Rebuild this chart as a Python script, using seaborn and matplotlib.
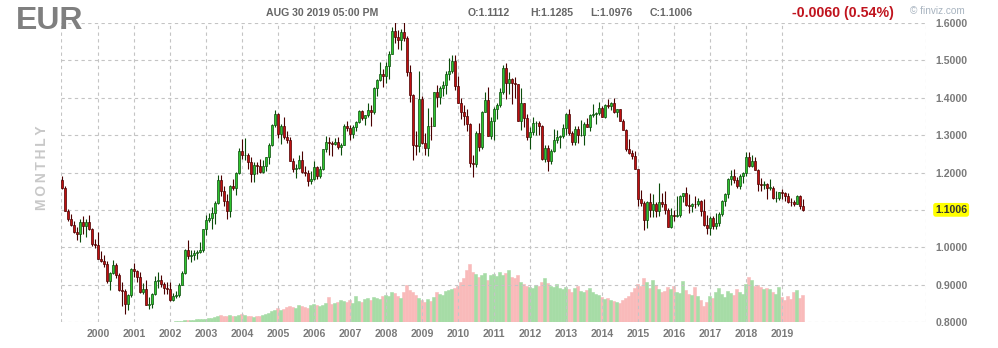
import numpy as np
import pandas as pd
import matplotlib
matplotlib.use("Agg")
import matplotlib.pyplot as plt
import seaborn as sns

# ---------------- data (monthly EUR/USD, Jan 1999 .. Aug 2019) ----------------
first_open = 1.1812
closes = [
    1.1580, 1.0980, 1.0770, 1.0590, 1.0420, 1.0350, 1.0680, 1.0580, 1.0680, 1.0500, 1.0080, 1.0070,  # 1999
    0.9700, 0.9640, 0.9570, 0.9110, 0.9330, 0.9530, 0.9270, 0.8870, 0.8830, 0.8500, 0.8720, 0.9420,  # 2000
    0.9370, 0.9220, 0.8800, 0.8880, 0.8460, 0.8480, 0.8760, 0.9110, 0.9130, 0.9030, 0.8910, 0.8900,  # 2001
    0.8600, 0.8700, 0.8720, 0.9000, 0.9330, 0.9920, 0.9780, 0.9810, 0.9860, 0.9880, 0.9920, 1.0490,  # 2002
    1.0730, 1.0790, 1.0910, 1.1180, 1.1800, 1.1500, 1.1240, 1.0980, 1.1650, 1.1590, 1.1990, 1.2590,  # 2003
    1.2470, 1.2480, 1.2290, 1.1970, 1.2200, 1.2180, 1.2020, 1.2170, 1.2430, 1.2750, 1.3270, 1.3560,  # 2004
    1.3040, 1.3250, 1.2960, 1.2870, 1.2300, 1.2110, 1.2130, 1.2330, 1.2020, 1.1990, 1.1790, 1.1840,  # 2005
    1.2160, 1.1920, 1.2110, 1.2620, 1.2810, 1.2790, 1.2760, 1.2810, 1.2680, 1.2750, 1.3250, 1.3200,  # 2006
    1.3020, 1.3230, 1.3350, 1.3650, 1.3450, 1.3540, 1.3680, 1.3630, 1.4260, 1.4480, 1.4640, 1.4590,  # 2007
    1.4850, 1.5180, 1.5790, 1.5620, 1.5550, 1.5750, 1.5600, 1.4680, 1.4080, 1.2730, 1.2700, 1.3970,  # 2008
    1.2800, 1.2670, 1.3250, 1.3240, 1.4150, 1.4030, 1.4260, 1.4330, 1.4640, 1.4720, 1.4990, 1.4320,  # 2009
    1.3870, 1.3630, 1.3510, 1.3300, 1.2270, 1.2230, 1.3050, 1.2680, 1.3630, 1.3940, 1.2980, 1.3380,  # 2010
    1.3690, 1.3800, 1.4160, 1.4800, 1.4390, 1.4500, 1.4390, 1.4370, 1.3390, 1.3850, 1.3450, 1.2960,  # 2011
    1.3080, 1.3330, 1.3340, 1.3240, 1.2360, 1.2660, 1.2300, 1.2580, 1.2860, 1.2960, 1.2990, 1.3190,  # 2012
    1.3580, 1.3060, 1.2820, 1.3170, 1.3000, 1.3010, 1.3300, 1.3220, 1.3530, 1.3580, 1.3590, 1.3740,  # 2013
    1.3490, 1.3800, 1.3770, 1.3870, 1.3630, 1.3690, 1.3390, 1.3130, 1.2630, 1.2520, 1.2450, 1.2100,  # 2014
    1.1290, 1.1200, 1.0730, 1.1220, 1.0990, 1.1150, 1.0980, 1.1210, 1.1170, 1.1000, 1.0560, 1.0860,  # 2015
    1.0830, 1.0870, 1.1380, 1.1450, 1.1130, 1.1100, 1.1170, 1.1160, 1.1240, 1.0980, 1.0590, 1.0520,  # 2016
    1.0800, 1.0570, 1.0650, 1.0900, 1.1240, 1.1420, 1.1840, 1.1910, 1.1810, 1.1650, 1.1900, 1.2000,  # 2017
    1.2410, 1.2190, 1.2320, 1.2080, 1.1690, 1.1680, 1.1690, 1.1600, 1.1600, 1.1310, 1.1310, 1.1470,  # 2018
    1.1450, 1.1370, 1.1220, 1.1210, 1.1170, 1.1370, 1.1112, 1.1006,                                  # 2019
]
highs = [
    1.1910, 1.1650, 1.1040, 1.0890, 1.0720, 1.0540, 1.0750, 1.0830, 1.0760, 1.0880, 1.0520, 1.0220,
    1.0410, 0.9900, 0.9800, 0.9630, 0.9340, 0.9660, 0.9590, 0.9330, 0.9080, 0.8880, 0.8760, 0.9450,
    0.9590, 0.9400, 0.9350, 0.9060, 0.9140, 0.8680, 0.8790, 0.9240, 0.9340, 0.9260, 0.9080, 0.9080,
    0.9070, 0.8790, 0.8840, 0.9040, 0.9360, 0.9970, 1.0190, 0.9920, 0.9940, 0.9920, 1.0150, 1.0500,
    1.0870, 1.0930, 1.1080, 1.1230, 1.1930, 1.1930, 1.1640, 1.1440, 1.1680, 1.1840, 1.2020, 1.2650,
    1.2900, 1.2930, 1.2520, 1.2430, 1.2290, 1.2290, 1.2370, 1.2330, 1.2430, 1.2780, 1.3300, 1.3670,
    1.3590, 1.3290, 1.3480, 1.3100, 1.2940, 1.2380, 1.2240, 1.2480, 1.2580, 1.2170, 1.2060, 1.2050,
    1.2310, 1.2170, 1.2190, 1.2640, 1.2970, 1.2960, 1.2840, 1.2920, 1.2940, 1.2790, 1.3290, 1.3370,
    1.3280, 1.3270, 1.3380, 1.3680, 1.3670, 1.3550, 1.3850, 1.3810, 1.4280, 1.4500, 1.4970, 1.4780,
    1.4950, 1.5240, 1.5900, 1.6020, 1.5820, 1.5830, 1.6040, 1.5640, 1.4870, 1.4090, 1.3100, 1.4720,
    1.4050, 1.3050, 1.3730, 1.3490, 1.4160, 1.4340, 1.4310, 1.4450, 1.4720, 1.5060, 1.5140, 1.5140,
    1.4580, 1.3990, 1.3820, 1.3690, 1.3330, 1.2460, 1.3120, 1.3330, 1.3650, 1.4160, 1.4280, 1.3500,
    1.3760, 1.3860, 1.4250, 1.4880, 1.4940, 1.4700, 1.4530, 1.4550, 1.4380, 1.4250, 1.3870, 1.3560,
    1.3230, 1.3490, 1.3390, 1.3390, 1.3280, 1.2740, 1.2750, 1.2640, 1.3170, 1.3140, 1.3010, 1.3310,
    1.3590, 1.3710, 1.3120, 1.3240, 1.3240, 1.3420, 1.3350, 1.3450, 1.3570, 1.3830, 1.3620, 1.3890,
    1.3770, 1.3830, 1.3970, 1.3900, 1.3990, 1.3700, 1.3700, 1.3440, 1.3160, 1.2890, 1.2600, 1.2570,
    1.2100, 1.1530, 1.1240, 1.1230, 1.1460, 1.1440, 1.1210, 1.1710, 1.1460, 1.1500, 1.1050, 1.1060,
    1.1000, 1.1380, 1.1400, 1.1460, 1.1620, 1.1430, 1.1190, 1.1370, 1.1330, 1.1260, 1.1300, 1.0870,
    1.0830, 1.0830, 1.0910, 1.0950, 1.1270, 1.1450, 1.1850, 1.2070, 1.2090, 1.1880, 1.1960, 1.2030,
    1.2540, 1.2560, 1.2480, 1.2420, 1.2100, 1.1850, 1.1790, 1.1730, 1.1820, 1.1630, 1.1500, 1.1490,
    1.1570, 1.1490, 1.1450, 1.1320, 1.1260, 1.1410, 1.1410, 1.1285,
]
lows = [
    1.1560, 1.0970, 1.0710, 1.0580, 1.0390, 1.0200, 1.0140, 1.0360, 1.0270, 1.0480, 1.0030, 0.9990,
    0.9700, 0.9600, 0.9490, 0.9050, 0.8850, 0.9290, 0.9190, 0.8840, 0.8440, 0.8230, 0.8330, 0.8680,
    0.9200, 0.9090, 0.8770, 0.8750, 0.8460, 0.8350, 0.8380, 0.8740, 0.8910, 0.8950, 0.8760, 0.8760,
    0.8580, 0.8570, 0.8640, 0.8680, 0.8990, 0.9280, 0.9700, 0.9600, 0.9660, 0.9680, 0.9860, 0.9870,
    1.0340, 1.0690, 1.0500, 1.0620, 1.1160, 1.1380, 1.1100, 1.0770, 1.0810, 1.1540, 1.1390, 1.1960,
    1.2360, 1.2350, 1.2090, 1.1760, 1.1760, 1.1960, 1.2000, 1.1980, 1.2050, 1.2240, 1.2720, 1.3230,
    1.2920, 1.2760, 1.2890, 1.2800, 1.2300, 1.2030, 1.1870, 1.2110, 1.1990, 1.1910, 1.1640, 1.1700,
    1.1800, 1.1830, 1.1860, 1.2070, 1.2560, 1.2460, 1.2450, 1.2740, 1.2620, 1.2480, 1.2730, 1.3100,
    1.2870, 1.2930, 1.3100, 1.3330, 1.3410, 1.3270, 1.3480, 1.3260, 1.3570, 1.4060, 1.4440, 1.4290,
    1.4390, 1.4500, 1.5160, 1.5470, 1.5300, 1.5280, 1.5530, 1.4590, 1.3880, 1.2330, 1.2460, 1.2560,
    1.2760, 1.2460, 1.2450, 1.2880, 1.3240, 1.3750, 1.3840, 1.4040, 1.4100, 1.4480, 1.4660, 1.4200,
    1.3870, 1.3440, 1.3270, 1.3110, 1.2140, 1.1880, 1.2150, 1.2590, 1.2640, 1.3610, 1.2970, 1.2900,
    1.2870, 1.3440, 1.3750, 1.4100, 1.3970, 1.4090, 1.3840, 1.4000, 1.3370, 1.3150, 1.3220, 1.2860,
    1.2620, 1.3000, 1.3000, 1.3000, 1.2330, 1.2290, 1.2040, 1.2240, 1.2560, 1.2800, 1.2660, 1.2920,
    1.3000, 1.3000, 1.2750, 1.2750, 1.2790, 1.2990, 1.2750, 1.3210, 1.3110, 1.3480, 1.3300, 1.3550,
    1.3480, 1.3470, 1.3720, 1.3670, 1.3600, 1.3500, 1.3380, 1.3130, 1.2570, 1.2500, 1.2360, 1.2100,
    1.1100, 1.1120, 1.0460, 1.0520, 1.0820, 1.0820, 1.0810, 1.0850, 1.1090, 1.0900, 1.0560, 1.0520,
    1.0710, 1.0810, 1.0810, 1.1210, 1.1100, 1.0910, 1.0950, 1.1050, 1.1110, 1.0850, 1.0580, 1.0350,
    1.0340, 1.0490, 1.0500, 1.0570, 1.0840, 1.1120, 1.1310, 1.1660, 1.1720, 1.1580, 1.1550, 1.1720,
    1.1920, 1.2150, 1.2150, 1.2060, 1.1510, 1.1510, 1.1570, 1.1300, 1.1530, 1.1300, 1.1220, 1.1270,
    1.1290, 1.1240, 1.1180, 1.1110, 1.1110, 1.1160, 1.1030, 1.0976,
]
volume = [0] * 36 + [
    0, 0, 1, 1, 1, 2, 2, 2, 2, 3, 3, 3,             # 2002
    3, 4, 4, 5, 6, 7, 6, 6, 7, 6, 6, 7,             # 2003
    8, 7, 6, 6, 5, 6, 6, 7, 8, 9, 11, 12,           # 2004
    14, 12, 13, 15, 16, 15, 14, 17, 16, 15, 14, 17,  # 2005
    18, 17, 16, 17, 19, 25, 18, 19, 20, 22, 21, 20,  # 2006
    22, 19, 26, 21, 20, 23, 24, 22, 25, 24, 23, 26,  # 2007
    27, 26, 30, 29, 26, 24, 30, 37, 32, 30, 27, 24,  # 2008
    22, 20, 23, 21, 25, 30, 28, 27, 31, 32, 33, 34,  # 2009
    36, 40, 44, 52, 58, 50, 48, 45, 47, 49, 42, 47,  # 2010
    48, 46, 50, 47, 49, 52, 45, 44, 47, 40, 38, 36,  # 2011
    35, 34, 37, 36, 40, 44, 39, 36, 35, 38, 34, 33,  # 2012
    35, 33, 30, 34, 36, 31, 30, 32, 34, 30, 28, 27,  # 2013
    25, 23, 24, 22, 21, 20, 19, 22, 24, 26, 30, 34,  # 2014
    38, 36, 44, 40, 34, 42, 37, 33, 30, 31, 35, 33,  # 2015
    36, 30, 29, 41, 32, 28, 27, 35, 26, 22, 16, 20,  # 2016
    26, 24, 30, 34, 28, 25, 31, 29, 27, 33, 30, 28,  # 2017
    38, 45, 42, 36, 37, 35, 33, 34, 33, 30, 28, 35,  # 2018
    25, 22, 26, 23, 30, 32, 24, 27,                  # 2019
]
year_labels = [str(y) for y in range(2000, 2020)]
price_ticks = [0.8, 0.9, 1.0, 1.1, 1.2, 1.3, 1.4, 1.5, 1.6]
last_price = 1.1006

# ---------------- frame ----------------
opens = [first_open] + closes[:-1]
n = len(closes)
df = pd.DataFrame({"idx": np.arange(n), "open": opens, "close": closes,
                   "high": highs, "low": lows, "vol": volume})
df["high"] = df[["high", "open", "close"]].max(axis=1)
df["low"] = df[["low", "open", "close"]].min(axis=1)
df["dir"] = np.where(df["close"] >= df["open"], "up", "down")

sns.set_theme(style="white")
plt.rcParams["font.family"] = ["Liberation Sans", "DejaVu Sans"]

W, H = 998, 348
fig = plt.figure(figsize=(W / 100, H / 100), dpi=100)
L, R, T, B = 61, 926, 23, 322.3
ax = fig.add_axes([L / W, 1 - B / H, (R - L) / W, (B - T) / H])
ax2 = ax.twinx()

# volume (behind)
sns.barplot(data=df, x="idx", y="vol", hue="dir", native_scale=True, dodge=False,
            palette={"up": "#a6dca6", "down": "#f9baba"}, width=1.0, ax=ax2,
            legend=False, saturation=1, linewidth=0, errorbar=None)
for p in ax2.patches:
    p.set_edgecolor(p.get_facecolor())
    p.set_linewidth(0.4)
ax2.set_ylim(0, B - T)
ax2.set_yticks([])
ax2.set_ylabel("")
for s in ax2.spines.values():
    s.set_visible(False)

ax.set_zorder(ax2.get_zorder() + 1)
ax.patch.set_visible(False)

# candles
up = df[df["dir"] == "up"]
dn = df[df["dir"] == "down"]
ax.vlines(up["idx"], up["low"], up["high"], color="#0b4d0b", linewidth=0.8, zorder=3)
ax.vlines(dn["idx"], dn["low"], dn["high"], color="#4a0000", linewidth=0.8, zorder=3)
ax.bar(up["idx"], (up["close"] - up["open"]).clip(lower=0.0008), bottom=up["open"],
       width=0.8, color="#2ec52e", edgecolor="#0b4d0b", linewidth=0.5, zorder=4)
ax.bar(dn["idx"], (dn["open"] - dn["close"]).clip(lower=0.0008), bottom=dn["close"],
       width=0.8, color="#c01010", edgecolor="#4a0000", linewidth=0.5, zorder=4)

ax.set_xlim(-0.33, 288)
ax.set_ylim(0.8, 1.6)
ax2.set_xlim(-0.33, 288)

# grid
grid_kw = dict(color="#c4c4c4", linewidth=0.8, linestyle=(0, (3, 3)), zorder=1)
for y in price_ticks:
    ax.axhline(y, **grid_kw)
xt = [12 * (i + 1) for i in range(len(year_labels))]
for x in xt + [-0.33, 288]:
    ax.axvline(x, **grid_kw)
for s in ax.spines.values():
    s.set_visible(False)

ax.yaxis.tick_right()
ax.set_yticks(price_ticks)
ax.set_yticklabels(["" if abs(v - 1.1) < 1e-9 else f"{v:.4f}" for v in price_ticks])
ax.set_xticks(xt)
ax.set_xticklabels(year_labels)
ax.tick_params(axis="y", length=0, pad=7, labelsize=7.6, labelcolor="#7a7a7a")
ax.tick_params(axis="x", length=0, pad=5, labelsize=7.6, labelcolor="#7a7a7a")
for lab in ax.get_xticklabels() + ax.get_yticklabels():
    lab.set_fontweight("bold")
ax.set_xlabel("")
ax.set_ylabel("")

ax.text(1.0105, last_price, f"{last_price:.4f}", transform=ax.get_yaxis_transform(),
        ha="left", va="center", fontsize=7.6, fontweight="bold", color="#333333",
        bbox=dict(boxstyle="round,pad=0.18,rounding_size=0.25", fc="#ffff00", ec="none"),
        zorder=10, clip_on=False)

# header texts
def ft(x, y, s, **kw):
    fig.text(x / W, 1 - y / H, s, **kw)

ft(16, 21, "EUR", fontsize=23, fontweight="bold", color="#7f7f7f", ha="left", va="center")
ft(42, 168, "M\u2009O\u2009N\u2009T\u2009H\u2009L\u2009Y", fontsize=10, fontweight="bold",
   color="#c8c8c8", rotation=90, ha="center", va="center",
   family=["Liberation Sans", "DejaVu Sans"])
ft(322, 13, "AUG 30 2019 05:00 PM", fontsize=7.6, fontweight="bold", color="#666666",
   ha="center", va="center")
ft(468, 13, "O:1.1112", fontsize=7.6, fontweight="bold", color="#666666", ha="left", va="center")
ft(530, 13, "H:1.1285", fontsize=7.6, fontweight="bold", color="#666666", ha="left", va="center")
ft(590, 13, "L:1.0976", fontsize=7.6, fontweight="bold", color="#666666", ha="left", va="center")
ft(650, 13, "C:1.1006", fontsize=7.6, fontweight="bold", color="#666666", ha="left", va="center")
ft(894, 13, "-0.0060 (0.54%)", fontsize=10.2, fontweight="bold", color="#c0141e",
   ha="right", va="center")
ft(910, 11, "© finviz.com", fontsize=7.2, color="#a8b4c0", ha="left", va="center")

fig.savefig("out.png", dpi=100)
